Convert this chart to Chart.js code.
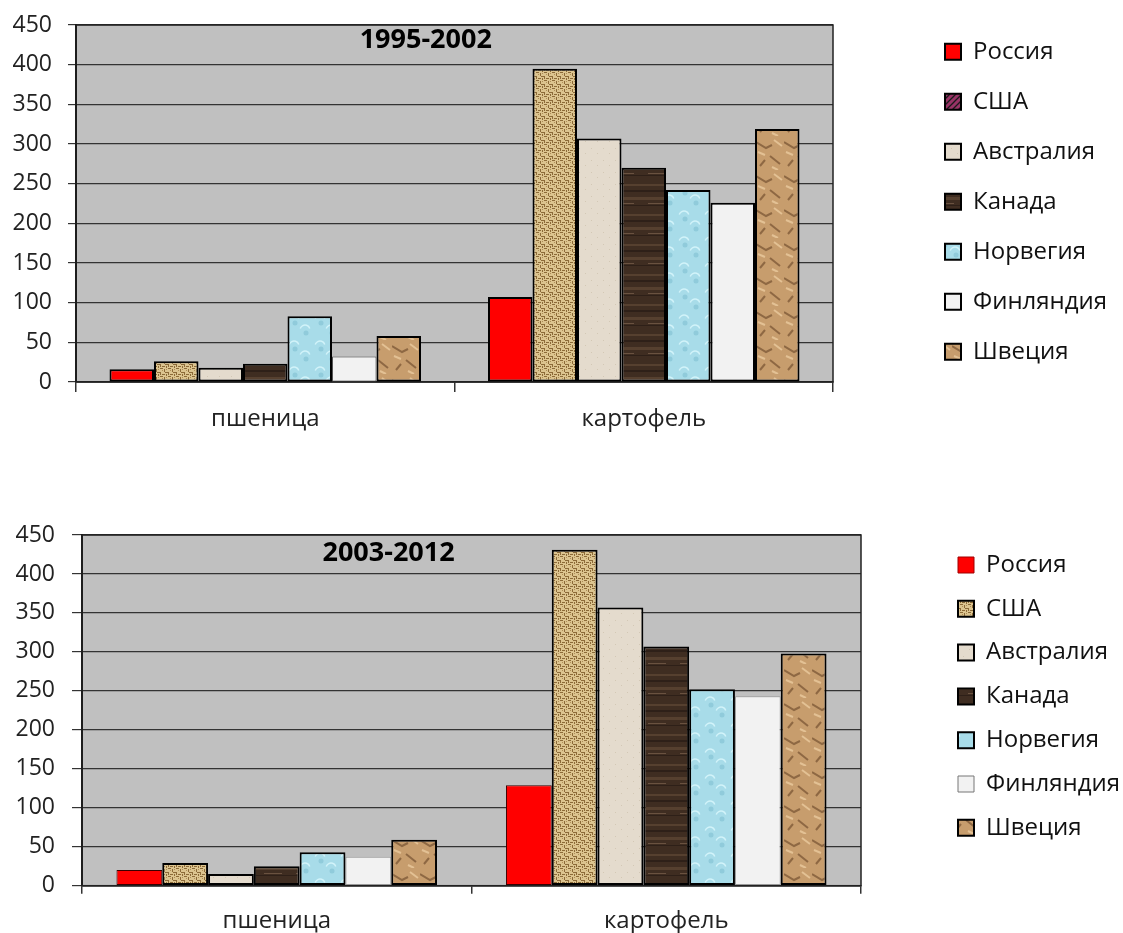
<!DOCTYPE html>
<html>
<head>
<meta charset="utf-8">
<script src="https://cdn.jsdelivr.net/npm/chart.js@4"></script>
<style>
  html, body { margin: 0; padding: 0; background: #fff; }
  body { width: 1123px; height: 933px; position: relative; overflow: hidden; }
  .box { position: absolute; left: 0; width: 1123px; }
  canvas { display: block; }
</style>
</head>
<body>
<div class="box" style="top:0;height:460px"><canvas id="chartTop" width="1123" height="460"></canvas></div>
<div class="box" style="top:460px;height:473px"><canvas id="chartBottom" width="1123" height="473"></canvas></div>
<script>
// --- data ---
const categories = ['пшеница', 'картофель'];
const countries = ['Россия', 'США', 'Австралия', 'Канада', 'Норвегия', 'Финляндия', 'Швеция'];
const periods = ['1995-2002', '2003-2012'];
const wheat1995 = [16, 26, 18, 23, 83, 32, 58];
const potato1995 = [107, 395, 307, 270, 242, 226, 319];
const wheat2003 = [20, 29, 15, 25, 43, 37, 59];
const potato2003 = [129, 431, 357, 307, 252, 243, 298];
const yMin = 0, yMax = 450, yStep = 50;

const FONT = '"Open Sans", Lato, "DejaVu Sans", sans-serif';
const LEGEND_SIZE = 24, BOX = 16;
Chart.defaults.font.family = FONT;
Chart.defaults.color = '#222';

// small repeating tiles that imitate the Excel picture fills
function tile(w, h, paint) {
    const c = document.createElement('canvas');
    c.width = w; c.height = h;
    const g = c.getContext('2d');
    paint(g);
    return g.createPattern(c, 'repeat');
}

const burlap = tile(8, 8, g => {
    g.fillStyle = '#dcc48f'; g.fillRect(0, 0, 8, 8);
    g.fillStyle = '#8c6a38';
    g.fillRect(0, 0, 3, 1); g.fillRect(4, 1, 1, 3); g.fillRect(5, 4, 3, 1);
    g.fillRect(0, 4, 1, 3); g.fillRect(2, 6, 3, 1); g.fillRect(6, 6, 1, 2);
    g.fillStyle = '#b08f58'; g.fillRect(2, 2, 1, 1); g.fillRect(6, 1, 1, 1);
});
const sand = tile(12, 12, g => {
    g.fillStyle = '#e4dbcd'; g.fillRect(0, 0, 12, 12);
    g.fillStyle = '#d3c8b5'; g.fillRect(3, 4, 1, 1); g.fillRect(9, 9, 1, 1);
});
const wood = tile(32, 30, g => {
    g.fillStyle = '#3f2d21'; g.fillRect(0, 0, 32, 30);
    g.fillStyle = '#56402f'; g.fillRect(0, 4, 32, 2); g.fillRect(0, 17, 32, 3);
    g.fillStyle = '#2e2018'; g.fillRect(0, 10, 32, 2); g.fillRect(0, 25, 32, 1);
    g.fillStyle = '#6a5240'; g.fillRect(8, 23, 18, 1);
});
const water = tile(26, 26, g => {
    g.fillStyle = '#a8dce9'; g.fillRect(0, 0, 26, 26);
    g.strokeStyle = '#d2f3f9'; g.lineWidth = 1.5;
    g.beginPath(); g.arc(8, 8, 5, Math.PI * 1.1, Math.PI * 1.9); g.stroke();
    g.beginPath(); g.arc(19, 18, 5, Math.PI * 1.1, Math.PI * 1.9); g.stroke();
    g.fillStyle = '#90cbdb';
    g.beginPath(); g.arc(9, 11, 2.5, 0, Math.PI * 2); g.fill();
    g.beginPath(); g.arc(20, 21, 2.5, 0, Math.PI * 2); g.fill();
});
const paper = tile(28, 34, g => {
    g.fillStyle = '#c79d6d'; g.fillRect(0, 0, 28, 34);
    g.lineWidth = 2;
    g.strokeStyle = '#8e6843';
    g.beginPath();
    g.moveTo(0, 6); g.lineTo(10, 12); g.lineTo(16, 9);
    g.moveTo(14, 20); g.lineTo(24, 28);
    g.moveTo(4, 30); g.lineTo(9, 24);
    g.stroke();
    g.strokeStyle = '#e3c194';
    g.beginPath();
    g.moveTo(2, 16); g.lineTo(9, 19);
    g.moveTo(18, 4); g.lineTo(26, 10);
    g.moveTo(16, 31); g.lineTo(22, 34);
    g.stroke();
});
const purpleStripes = tile(6, 6, g => {
    g.fillStyle = '#993366'; g.fillRect(0, 0, 6, 6);
    g.strokeStyle = '#1a1a1a'; g.lineWidth = 1.3;
    g.beginPath(); g.moveTo(0, 6); g.lineTo(6, 0); g.moveTo(-1, 1); g.lineTo(1, -1); g.moveTo(5, 7); g.lineTo(7, 5); g.stroke();
});

const fills = ['#ff0000', burlap, sand, wood, water, '#f2f2f2', paper];

// plot background, frame and the period caption inside the plot
const plotDecor = {
    id: 'plotDecor',
    beforeDraw(chart) {
        const a = chart.chartArea, ctx = chart.ctx;
        ctx.save();
        ctx.fillStyle = '#c0c0c0';
        ctx.fillRect(a.left, a.top, a.width, a.height);
        ctx.restore();
    },
    beforeDatasetsDraw(chart) {
        const a = chart.chartArea, ctx = chart.ctx;
        ctx.save();
        ctx.strokeStyle = '#222';
        ctx.lineWidth = 1.5;
        ctx.strokeRect(a.left, a.top, a.width, a.height);
        ctx.restore();
    },
    afterDatasetsDraw(chart, args, opts) {
        const a = chart.chartArea, ctx = chart.ctx;
        ctx.save();
        ctx.font = 'bold 27px ' + FONT;
        ctx.fillStyle = '#000';
        ctx.textAlign = 'center';
        ctx.textBaseline = 'middle';
        ctx.fillText(opts.text, a.left + opts.fx * a.width, a.top + opts.dy);
        ctx.restore();
    }
};

// widest legend text, so the legend box can be placed where the reference has it
function legendTextWidth() {
    const g = document.createElement('canvas').getContext('2d');
    g.font = LEGEND_SIZE + 'px ' + FONT;
    return Math.max(...countries.map(t => g.measureText(t).width));
}

function buildChart(id, wheat, potato, title, geo) {
    const canvas = document.getElementById(id);
    const legendLeft = geo.boxLeft - geo.legendPad;
    const legendW = geo.legendPad + BOX + LEGEND_SIZE / 2 + legendTextWidth() + 10;
    const rightPad = canvas.width - legendLeft - legendW;
    const gap = legendLeft - geo.plotRight;

    const datasets = countries.map((name, i) => ({
        label: name,
        data: [wheat[i], potato[i]],
        backgroundColor: fills[i],
        borderColor: geo.barBorderColor[i],
        borderWidth: geo.barBorderWidth[i],
        borderSkipped: false,
        categoryPercentage: 0.823,
        barPercentage: 1
    }));

    return new Chart(canvas, {
        type: 'bar',
        data: { labels: categories, datasets },
        plugins: [plotDecor],
        options: {
            responsive: false,
            animation: false,
            layout: { padding: { top: geo.legendTop, right: rightPad, left: 0, bottom: 0 } },
            scales: {
                x: {
                    offset: true,
                    grid: { offset: true, drawOnChartArea: false, drawTicks: true, tickLength: geo.xTick, color: '#333', lineWidth: 1.5 },
                    border: { display: true, color: '#222', width: 1.5 },
                    ticks: { font: { size: 24 }, padding: geo.xPad, color: '#222' },
                    afterFit: s => { s.height = geo.xHeight; }
                },
                y: {
                    min: yMin, max: yMax,
                    grid: { color: '#333', lineWidth: 1.2, tickLength: geo.yTick },
                    border: { display: true, color: '#111', width: 2 },
                    ticks: { stepSize: yStep, font: { size: 23 }, padding: geo.yPad, color: '#222' },
                    afterFit: s => { s.width = geo.plotLeft; s.paddingTop = geo.plotTop; }
                },
                gap: {
                    // empty axis that keeps the white gap between plot and legend
                    position: 'right', axis: 'y', display: true,
                    grid: { display: false }, border: { display: false }, ticks: { display: false },
                    afterFit: s => { s.width = gap; }
                }
            },
            plugins: {
                tooltip: { enabled: false },
                plotDecor: { text: title, fx: geo.titleFx, dy: geo.titleDy },
                legend: {
                    position: 'right',
                    align: 'start',
                    maxWidth: 600,
                    labels: {
                        font: { size: LEGEND_SIZE },
                        color: '#111',
                        boxWidth: BOX,
                        boxHeight: BOX,
                        padding: geo.legendPad,
                        generateLabels: chart => chart.data.datasets.map((ds, i) => ({
                            text: ds.label,
                            fillStyle: geo.legendFill[i],
                            strokeStyle: geo.legendStroke[i],
                            lineWidth: geo.legendLine[i],
                            fontColor: '#111',
                            hidden: false,
                            datasetIndex: i
                        }))
                    }
                }
            }
        }
    });
}

buildChart('chartTop', wheat1995, potato1995, periods[0], {
    plotLeft: 76, plotTop: 25, plotRight: 833, xHeight: 78,
    boxLeft: 945, legendTop: 13.7, legendPad: 26,
    xTick: 10, xPad: 13, yTick: 8, yPad: 16,
    titleFx: 0.462, titleDy: 15,
    barBorderColor: ['#000', '#000', '#000', '#000', '#000', ['#555', '#000'], '#000'],
    barBorderWidth: [2, 2, 2, 2, 2, [1, 2], 2],
    legendFill: ['#ff0000', purpleStripes, sand, wood, water, '#f2f2f2', paper],
    legendStroke: ['#000', '#000', '#000', '#000', '#000', '#000', '#000'],
    legendLine: [2, 2, 2, 2, 2, 2, 2]
});

buildChart('chartBottom', wheat2003, potato2003, periods[1], {
    plotLeft: 82, plotTop: 75, plotRight: 861, xHeight: 47.3,
    boxLeft: 958, legendTop: 73.2, legendPad: 19.8,
    xTick: 8, xPad: 13, yTick: 10, yPad: 17,
    titleFx: 0.3935, titleDy: 18,
    barBorderColor: ['#3a0000', '#000', '#000', '#000', '#000', '#999', '#000'],
    barBorderWidth: [1, 2, 2, 2, 2, 1, 2],
    legendFill: ['#ff0000', burlap, sand, wood, water, '#f2f2f2', paper],
    legendStroke: ['#a00000', '#000', '#000', '#000', '#000', '#777', '#000'],
    legendLine: [1, 2, 2, 2, 2, 1, 2]
});
</script>
</body>
</html>
